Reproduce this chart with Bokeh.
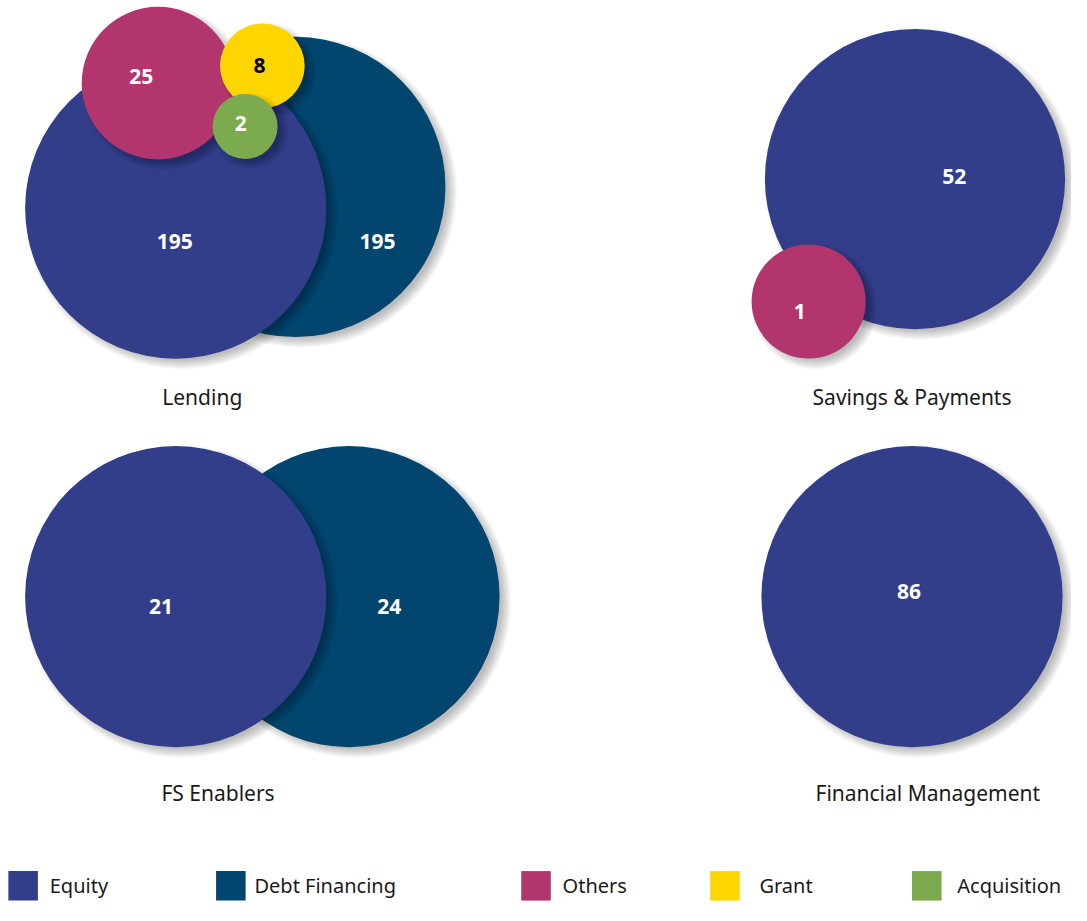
from bokeh.plotting import figure
from bokeh.models import Range1d, ColumnDataSource
from bokeh.core.properties import value
from bokeh.embed import file_html
from bokeh.resources import INLINE

# ---------------- data ----------------
series = ["Equity", "Debt Financing", "Others", "Grant", "Acquisition"]
series_colors = ["#323E8A", "#02456F", "#B3356E", "#FDD500", "#7CAA4E"]
label_colors = ["white", "white", "white", "black", "white"]

sectors = ["Lending", "Savings & Payments", "FS Enablers", "Financial Management"]
lending = [195, 195, 25, 8, 2]
savings_payments = [52, 0, 1, 0, 0]
fs_enablers = [21, 24, 0, 0, 0]
financial_management = [86, 0, 0, 0, 0]
sector_values = [lending, savings_payments, fs_enablers, financial_management]

# ---------------- layout (pixel geometry, not data) ----------------
# per sector: draw order, and for each series: (cx, cy, r, label_x, label_y)
layouts = [
    {"order": [1, 0, 2, 3, 4],
     "geom": {1: (299.5, 189.5, 152.5, 383, 245),
              0: (178, 211, 153, 177, 245),
              2: (160, 84, 77.5, 143, 77),
              3: (266, 66.5, 43, 263, 66),
              4: (248.5, 128, 33, 244, 125)},
     "title": (205, 403)},
    {"order": [0, 2],
     "geom": {0: (929, 181.5, 152.5, 969, 179),
              2: (821, 306, 58, 812, 316)},
     "title": (926, 403)},
    {"order": [1, 0],
     "geom": {1: (354, 606, 153, 395, 616),
              0: (178, 606, 153, 163, 616)},
     "title": (221, 806)},
    {"order": [0],
     "geom": {0: (926, 606, 153, 923, 601)},
     "title": (942, 806)},
]
legend_square_x = [23, 234, 544, 736, 941]
legend_text_x = [50, 258, 571, 771, 972]
legend_y = 900

W, H = 1071, 905
p = figure(width=W, height=H, output_backend="svg", toolbar_location=None,
           x_range=Range1d(0, 1088), y_range=Range1d(920, 0),
           min_border=0, x_axis_location=None, y_axis_location=None)
p.grid.visible = False
p.outline_line_color = None
p.background_fill_color = "white"
p.border_fill_color = "white"

FONT = value("Noto Sans")

for vals, lay, name in zip(sector_values, layouts, sectors):
    for idx in lay["order"]:
        if vals[idx] <= 0:
            continue
        cx, cy, r, lx, ly = lay["geom"][idx]
        # soft drop shadow (bottom-right)
        for k in range(10):
            p.circle(x=[cx + 6], y=[cy + 5], radius=r - 4 + k * 1.1,
                     fill_color="black", fill_alpha=0.028, line_color=None)
        p.circle(x=[cx], y=[cy], radius=r, fill_color=series_colors[idx],
                 line_color=None)
    for idx in lay["order"]:
        if vals[idx] <= 0:
            continue
        cx, cy, r, lx, ly = lay["geom"][idx]
        p.text(x=[lx], y=[ly], text=[str(vals[idx])], text_align="center",
               text_baseline="middle", text_font=FONT, text_font_size="21px",
               text_font_style="bold", text_color=label_colors[idx])
    tx, ty = lay["title"]
    p.text(x=[tx], y=[ty], text=[name], text_align="center",
           text_baseline="middle", text_font=FONT, text_font_size="21px",
           text_color="#1a1a1a")

# legend
src = ColumnDataSource(dict(x=legend_square_x, y=[legend_y] * 5,
                            tx=legend_text_x, c=series_colors, t=series))
p.rect(x="x", y="y", width=30, height=30, fill_color="c", line_color=None,
       source=src)
p.text(x="tx", y="y", text="t", text_align="left", text_baseline="middle",
       text_font=FONT, text_font_size="20px", text_color="#1a1a1a", source=src)

open("out.html", "w").write(file_html(p, INLINE))
